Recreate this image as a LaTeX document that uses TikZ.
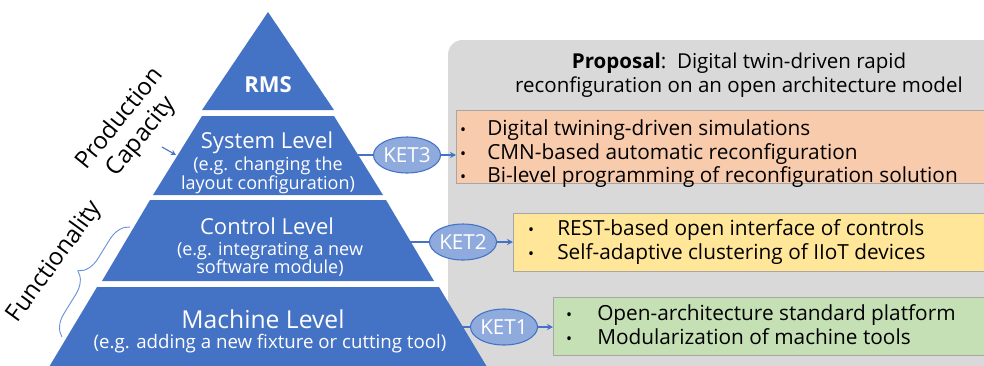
\documentclass[tikz,border=0pt]{standalone}
\usepackage{fontspec}
\setmainfont{Open Sans}
\usetikzlibrary{arrows.meta,shapes.geometric,decorations.pathreplacing}
\definecolor{bandblue}{HTML}{4472C4}
\definecolor{ketfill}{HTML}{8FAADC}
\definecolor{panelgrey}{HTML}{D9D9D9}
\definecolor{boxorange}{HTML}{F8CBAD}
\definecolor{boxyellow}{HTML}{FFE699}
\definecolor{boxgreen}{HTML}{C5E0B4}
\definecolor{boxedge}{HTML}{A6A6A6}
\definecolor{bracecol}{HTML}{6A93D8}
\begin{document}
\begin{tikzpicture}[x=0.75pt,y=-0.75pt,
  band/.style={fill=bandblue},
  lvltitle/.style={text=white,font=\fontsize{16.5}{19}\selectfont,anchor=base,inner sep=0},
  lvlsub/.style={text=white,font=\fontsize{13.5}{16}\selectfont,anchor=base,inner sep=0},
  ket/.style={ellipse,draw=bandblue,line width=0.8pt,fill=ketfill,text=white,
    font=\fontsize{15.5}{17}\selectfont,minimum width=41pt,minimum height=27pt,inner sep=0},
  link/.style={draw=bandblue,line width=0.9pt},
  tip/.style={link,-{Stealth[length=4.5pt,width=4.5pt]}},
  itembox/.style={draw=boxedge,line width=0.8pt,anchor=north west,inner sep=0},
  bullet/.style={font=\fontsize{12}{14}\selectfont,anchor=base,inner sep=0},
  itemtext/.style={font=\fontsize{15.6}{18}\selectfont,anchor=base west,inner sep=0},
  sidelabel/.style={font=\fontsize{18}{21}\selectfont,align=center,inner sep=0},
]
\useasboundingbox (0,0) rectangle (984,365);
\clip (0,0) rectangle (984,365);

% grey proposal panel, running off the right and bottom edges
\fill[panelgrey,rounded corners=11pt] (448,40) rectangle (1010,400);

% pyramid bands
\fill[band] (268,12) -- (334,110) -- (202,110) -- cycle;
\fill[band] (202,116) -- (334,116) -- (383,195) -- (153,195) -- cycle;
\fill[band] (150,200) -- (386,200) -- (434,281) -- (102,281) -- cycle;
\fill[band] (97,287) -- (439,287) -- (487,367) -- (49,367) -- cycle;

% pyramid texts
\node[text=white,font=\fontsize{16.5}{18}\selectfont\bfseries,anchor=base,inner sep=0] (rms) at (268,92) {RMS};
\node[lvltitle] (sys) at (267,148) {System Level};
\node[lvlsub] (sys1) at (268,170) {(e.g. changing the};
\node[lvlsub] (sys2) at (268,189) {layout configuration)};
\node[lvltitle] (ctl) at (267,234) {Control Level};
\node[lvlsub] (ctl1) at (270,255) {(e.g. integrating a new};
\node[lvlsub] (ctl2) at (270,273) {software module)};
\node[lvltitle,font=\fontsize{18.5}{21}\selectfont] (mac) at (263,328) {Machine Level};
\node[lvlsub,font=\fontsize{14}{16}\selectfont] (mac1) at (270,348) {(e.g. adding a new fixture or cutting tool)};

% side labels
\node[sidelabel,rotate=51] (prodcap) at (131,128) {Production\\Capacity};
\coordinate (pcA) at (162,147);
\coordinate (pcB) at (176,155);
\draw[link,line width=0.8pt,-{Stealth[length=4pt,width=4pt]}] (pcA) -- (pcB);
\node[sidelabel,rotate=54] (func) at (55,262) {Functionality};
\coordinate (brA) at (62,337);
\coordinate (brB) at (130,227);
\draw[bracecol,line width=0.7pt,decorate,decoration={brace,amplitude=16pt}] (brA) -- (brB);

% proposal title
\node[font=\fontsize{15.4}{18}\selectfont,anchor=base,inner sep=0] (title1) at (739,68) {\textbf{Proposal}:\ \ Digital twin-driven rapid};
\node[font=\fontsize{15.4}{18}\selectfont,anchor=base,inner sep=0] (title2) at (739,92) {reconfiguration on an open architecture model};

% item boxes
\node[itembox,fill=boxorange,minimum width=405pt,minimum height=55pt] (obox) at (456,110) {};
\node[itembox,fill=boxyellow,minimum width=360pt,minimum height=43.5pt] (ybox) at (513,213) {};
\node[itembox,fill=boxgreen,minimum width=330pt,minimum height=43.5pt] (gbox) at (553,297) {};

\node[bullet] (ob1) at (463,135) {•};
\node[bullet] (ob2) at (463,159) {•};
\node[bullet] (ob3) at (463,182) {•};
\node[itemtext] (ot1) at (487,135) {Digital twining-driven simulations};
\node[itemtext] (ot2) at (487,159) {CMN-based automatic reconfiguration};
\node[itemtext] (ot3) at (487,182) {Bi-level programming of reconfiguration solution};

\node[bullet] (yb1) at (531,235) {•};
\node[bullet] (yb2) at (531,259) {•};
\node[itemtext] (yt1) at (557,235) {REST-based open interface of controls};
\node[itemtext] (yt2) at (557,259) {Self-adaptive clustering of IIoT devices};

\node[bullet] (gb1) at (569,320) {•};
\node[bullet] (gb2) at (569,344) {•};
\node[itemtext] (gt1) at (597,320) {Open-architecture standard platform};
\node[itemtext] (gt2) at (597,344) {Modularization of machine tools};

% key enabling technologies
\node[ket] (ket3) at (407,155) {KET3};
\node[ket] (ket2) at (463,242) {KET2};
\node[ket] (ket1) at (504,327) {KET1};

\coordinate (sysE) at (358,155);
\coordinate (ctlE) at (410,242);
\coordinate (macE) at (462,327);

\draw[link] (sysE) -- (ket3);
\draw[tip] (ket3) -- (ket3 -| obox.west);
\draw[link] (ctlE) -- (ket2);
\draw[tip] (ket2) -- (ket2 -| ybox.west);
\draw[link] (macE) -- (ket1);
\draw[tip] (ket1) -- (ket1 -| gbox.west);
\end{tikzpicture}
\end{document}
